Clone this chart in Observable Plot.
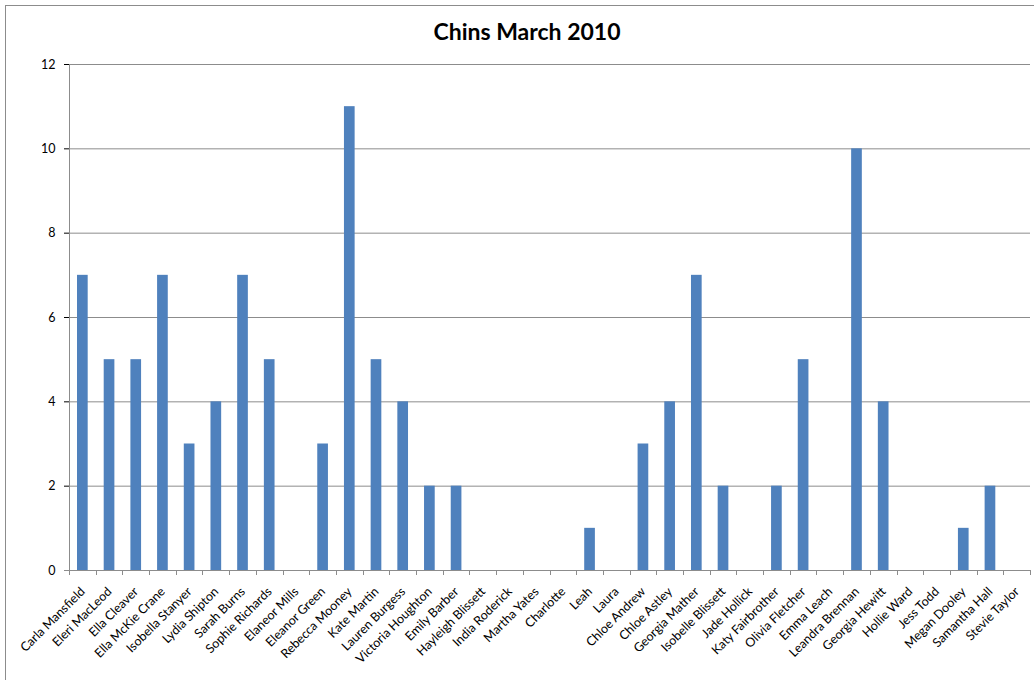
<!DOCTYPE html>
<html>
<head>
<meta charset="utf-8">
<script src="https://cdn.jsdelivr.net/npm/d3@7"></script>
<script src="https://cdn.jsdelivr.net/npm/@observablehq/plot@0.6"></script>
<style>
  html, body { margin: 0; padding: 0; background: #fff; }
  body { width: 1034px; height: 680px; position: relative; overflow: hidden; font-family: Lato, "Liberation Sans", sans-serif; }
  #frame { position: absolute; left: 5px; top: 5px; width: 1040px; height: 690px; border: 1px solid #8c8c8c; box-sizing: border-box; }
  #title { position: absolute; left: 0; top: 17px; width: 1054px; text-align: center; font-weight: bold; font-size: 23px; color: #000; }
  #chart { position: absolute; left: 0; top: 50px; }
</style>
</head>
<body>
<div id="frame"></div>
<div id="title">Chins March 2010</div>
<div id="chart"></div>
<script>
const names = [
  "Carla Mansfield","Eleri MacLeod","Ella Cleaver","Ella McKie Crane","Isobella Stanyer",
  "Lydia Shipton","Sarah Burns","Sophie Richards","Elaneor Mills","Eleanor Green",
  "Rebecca Mooney","Kate Martin","Lauren Burgess","Victoria Houghton","Emily Barber",
  "Hayleigh Blissett","India Roderick","Martha Yates","Charlotte","Leah",
  "Laura","Chloe Andrew","Chloe Astley","Georgia Mather","Isobelle Blissett",
  "Jade Hollick","Katy Fairbrother","Olivia Fletcher","Emma Leach","Leandra Brennan",
  "Georgia Hewitt","Hollie Ward","Jess Todd","Megan Dooley","Samantha Hall","Stevie Taylor"
];
const chins = [
  7,5,5,7,3,
  4,7,5,0,3,
  11,5,4,2,2,
  0,0,0,0,1,
  0,3,4,7,2,
  0,2,5,0,10,
  4,0,0,1,2,0
];
const yTicks = [0,2,4,6,8,10,12];

const data = names.map((name, i) => ({name, value: chins[i]}));

// Custom mark: y axis line, x axis line and category boundary ticks
const axisLines = (index, scales, values, dims) => {
  const x = scales.x, y = scales.y;
  const g = d3.create("svg:g").attr("stroke", "#8c8c8c").attr("stroke-width", 1).attr("fill", "none");
  const x0 = dims.marginLeft, x1 = dims.width - dims.marginRight;
  const y0 = y(0), yTop = y(12);
  g.append("line").attr("x1", x0 + 0.5).attr("x2", x0 + 0.5).attr("y1", yTop).attr("y2", y0 + 5);
  g.append("line").attr("x1", x0 - 5).attr("x2", x1).attr("y1", y0 + 0.5).attr("y2", y0 + 0.5);
  const step = x.step();
  const start = x(names[0]) - step * x.paddingOuter();
  for (let k = 0; k <= names.length; k++) {
    const xx = Math.round(start + k * step) + 0.5;
    g.append("line").attr("x1", xx).attr("x2", xx).attr("y1", y0).attr("y2", y0 + 5);
  }
  return g.node();
};

const plot = Plot.plot({
  width: 1034,
  height: 625,
  marginTop: 14,
  marginBottom: 105,
  marginLeft: 69,
  marginRight: 4,
  style: {fontFamily: "Lato, 'Liberation Sans', sans-serif", fontSize: "12.5px", color: "#000", background: "transparent"},
  x: {domain: names, round: false, paddingInner: 0.6, paddingOuter: 0.3, tickRotate: -45, tickSize: 0, tickPadding: 19, label: null},
  y: {domain: [0, 12], ticks: yTicks, tickSize: 5, tickPadding: 9, label: null, tickFormat: d3.format("d")},
  marks: [
    Plot.ruleY(yTicks, {stroke: "#8c8c8c", strokeWidth: 1}),
    Plot.barY(data, {x: "name", y: "value", fill: "#4f81bd"}),
    axisLines
  ]
});
document.getElementById("chart").appendChild(plot);
</script>
</body>
</html>
